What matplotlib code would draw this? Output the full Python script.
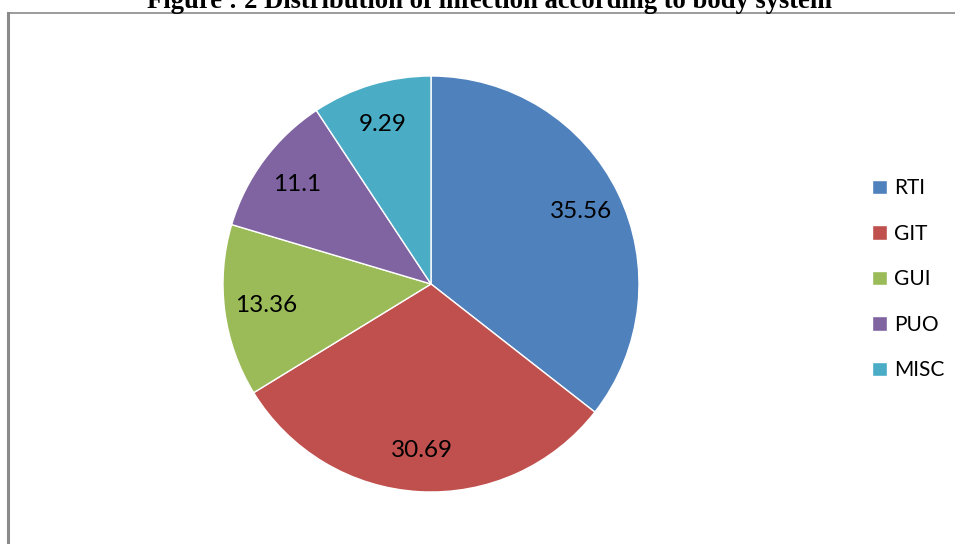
import matplotlib
matplotlib.use('Agg')
import matplotlib.pyplot as plt
from matplotlib.lines import Line2D

# data
categories = ['RTI', 'GIT', 'GUI', 'PUO', 'MISC']
values = [35.56, 30.69, 13.36, 11.1, 9.29]
value_labels = ['35.56', '30.69', '13.36', '11.1', '9.29']
colors = ['#4F81BD', '#C0504D', '#9BBB59', '#8064A2', '#4BACC6']
title = 'Figure : 2 Distribution of infection according to body system'

W, H = 955, 544
fig = plt.figure(figsize=(W / 100, H / 100), dpi=100)

# pie axes: centre (431, 284), radius 208 px
cx, cy, r = 431, 284, 208
ax = fig.add_axes([(cx - r) / W, 1 - (cy + r) / H, 2 * r / W, 2 * r / H])
labs = iter(value_labels)
wedges, texts, autotexts = ax.pie(
    values, colors=colors, startangle=90, counterclock=False,
    autopct=lambda p: next(labs), pctdistance=0.8,
    wedgeprops=dict(edgecolor='white', linewidth=1.0),
    textprops=dict(fontsize=17.5, family='Lato', color='black'))
ax.set_xlim(-1, 1)
ax.set_ylim(-1, 1)
ax.set_aspect('equal')

# legend
fig.legend(wedges, categories, loc='upper left', frameon=False,
           bbox_to_anchor=(862 / W, 1 - 168 / H), borderpad=0,
           prop=dict(family='Lato', size=15), handlelength=0.7,
           handleheight=0.7, handletextpad=0.35, labelspacing=1.22)

# chart border (top and left visible, rest runs off the page)
fig.add_artist(Line2D([8 / W, 1.0], [1 - 13 / H, 1 - 13 / H],
                      transform=fig.transFigure, color='#8a8a8a', lw=1.2))
fig.add_artist(Line2D([8 / W, 8 / W], [1 - 13 / H, 0.0],
                      transform=fig.transFigure, color='#8a8a8a', lw=2.2))

# title, clipped at the top like in the source
fig.text(489 / W, 1 - 8 / H, title, ha='center', va='baseline',
         family='Liberation Serif', weight='bold', fontsize=19.2)

fig.savefig('out.png', dpi=100)
